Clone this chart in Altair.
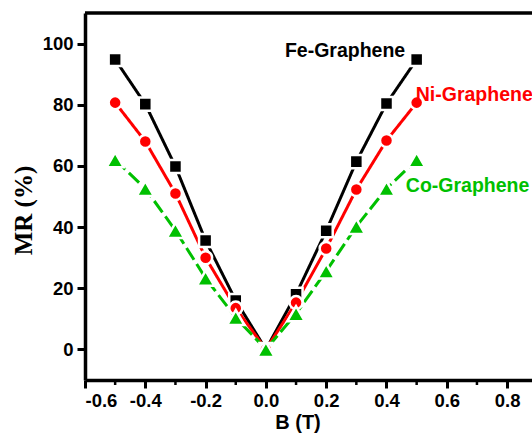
import altair as alt
import pandas as pd

B = [-0.5, -0.4, -0.3, -0.2, -0.1, 0.0, 0.1, 0.2, 0.3, 0.4, 0.5]
fe = [94.8, 80.2, 59.8, 35.6, 16.0, 0.0, 18.0, 38.8, 61.4, 80.4, 94.8]
ni = [80.7, 68.0, 51.0, 30.0, 13.5, 0.0, 15.3, 33.0, 52.3, 68.3, 80.7]
co = [62.0, 52.6, 38.9, 23.3, 10.4, 0.0, 11.7, 25.6, 40.2, 52.6, 62.0]

series = ["Fe-Graphene", "Ni-Graphene", "Co-Graphene"]
colors = ["#000000", "#ff0000", "#00c000"]
shapes = ["square", "circle", "triangle-up"]
sizes = [170, 170, 300]
dashes = [[1, 0], [1, 0], [14, 5]]
label_x = [0.063, 0.497, 0.464]
label_y = [97.7, 83.3, 53.3]

x_major = [-0.6, -0.4, -0.2, 0.0, 0.2, 0.4, 0.6, 0.8]
x_minor = [-0.5, -0.3, -0.1, 0.1, 0.3, 0.5, 0.7]
y_major = [0, 20, 40, 60, 80, 100]

W, H = 447, 367
xs = alt.Scale(domain=[-0.6, 0.8826], nice=False, zero=False)
ys = alt.Scale(domain=[-10, 110], nice=False, zero=False)

FONT = "Liberation Sans"

layers = []
for name, vals, col, dash in zip(series, [fe, ni, co], colors, dashes):
    df = pd.DataFrame({"B": B, "MR": vals})
    layers.append(
        alt.Chart(df).mark_line(color=col, strokeWidth=3, strokeDash=dash).encode(
            x=alt.X("B:Q", scale=xs), y=alt.Y("MR:Q", scale=ys)
        )
    )
for name, vals, col, shp, sz in zip(series, [fe, ni, co], colors, shapes, sizes):
    df = pd.DataFrame({"B": B, "MR": vals})
    layers.append(
        alt.Chart(df).mark_point(
            shape=shp, size=sz, filled=True, fill=col, stroke="white",
            strokeWidth=2.5, opacity=1
        ).encode(x=alt.X("B:Q", scale=xs), y=alt.Y("MR:Q", scale=ys))
    )

lab = pd.DataFrame({"t": series, "x": label_x, "y": label_y, "c": colors})
layers.append(
    alt.Chart(lab).mark_text(
        align="left", baseline="middle", font=FONT, fontWeight="bold",
        fontSize=19.5, clip=True
    ).encode(
        x=alt.X("x:Q", scale=xs), y=alt.Y("y:Q", scale=ys), text="t:N",
        color=alt.Color("c:N", scale=None)
    )
)

# top frame line
layers.append(
    alt.Chart(pd.DataFrame({"y": [110]})).mark_rule(color="black", strokeWidth=3.5).encode(
        y=alt.Y("y:Q", scale=ys), x=alt.value(0), x2=alt.value(W + 5)
    )
)

# minor ticks on x
layers.append(
    alt.Chart(pd.DataFrame({"x": x_minor})).mark_rule(
        color="black", strokeWidth=2.5, clip=False
    ).encode(
        x=alt.X("x:Q", scale=xs), y=alt.value(H), y2=alt.value(H + 5)
    )
)

axis_base = dict(
    domainColor="black", domainWidth=3.5, tickColor="black", tickWidth=3,
    tickSize=8, labelFont=FONT, labelFontWeight="bold", labelFontSize=18.5,
    labelColor="black", grid=False, titleColor="black",
)

base = alt.Chart(pd.DataFrame({"B": [0.0], "MR": [0.0]})).mark_point(opacity=0).encode(
    x=alt.X("B:Q", scale=xs, title="B (T)", axis=alt.Axis(
        values=x_major,
        labelExpr="(datum.value < 0 ? '-' : '') + format(abs(datum.value), '.1f')",
        labelPadding=3, titleFont=FONT,
        titleFontWeight="bold", titleFontSize=20, titlePadding=3,
        titleX=212.5, titleAlign="center", **axis_base)),
    y=alt.Y("MR:Q", scale=ys, title="MR (%)", axis=alt.Axis(
        values=y_major, format="d", labelPadding=4, titleFont="Liberation Serif",
        titleFontWeight="bold", titleFontSize=25, titleX=-62, titleY=197,
        titleAlign="center", titleBaseline="middle", **axis_base)),
)

chart = alt.layer(base, *layers).properties(
    width=W, height=H,
    autosize=alt.AutoSizeParams(type="none"),
    padding={"left": 85, "top": 13, "right": 0, "bottom": 53},
    background="white",
).configure_view(stroke=None)

chart.save("out.html", embed_options={"renderer": "svg", "actions": False})
